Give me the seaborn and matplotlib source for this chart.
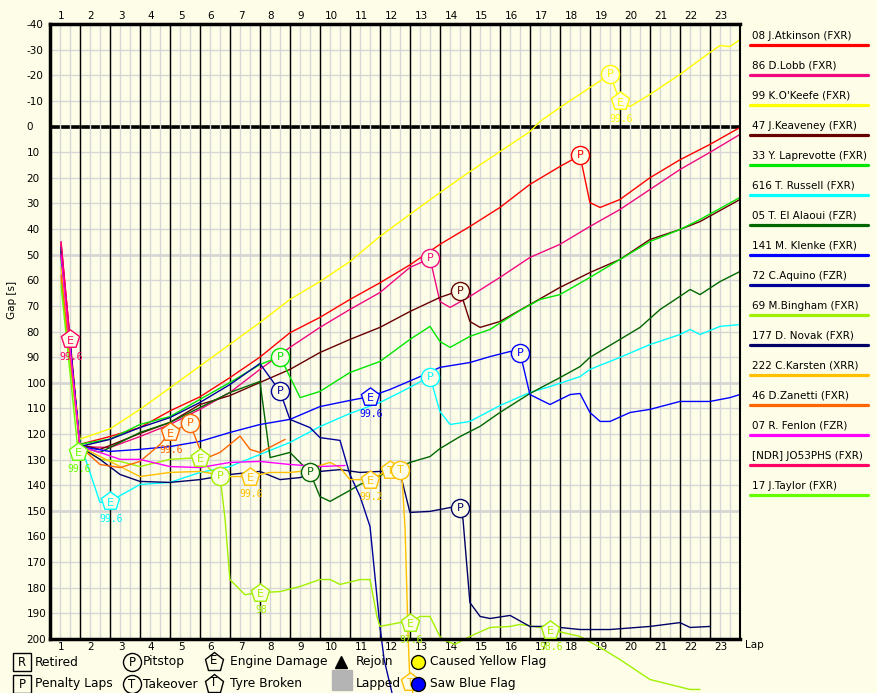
import numpy as np
import pandas as pd
import seaborn as sns
import matplotlib.pyplot as plt
from matplotlib.lines import Line2D

sns.set_theme(style='white')
plt.rcParams['font.family'] = ['DejaVu Sans']
plt.rcParams['axes.unicode_minus'] = False
plt.rcParams['text.color'] = 'black'
plt.rcParams['xtick.color'] = 'black'
plt.rcParams['ytick.color'] = 'black'

BG = '#fefee8'
W, H = 877, 693

# gap to the leader [s] per lap position
atkinson_lap = [1.0, 1.63, 2.63, 3.63, 4.63, 5.63, 6.63, 7.63, 8.63, 9.63, 10.63, 11.63, 12.63,
                13.63, 14.63, 15.63, 16.63, 17.63, 18.3, 18.63, 18.97, 19.63, 20.63, 21.63, 22.63, 23.63]
atkinson_gap = [46, 124, 121, 117.5, 111, 105.5, 98, 90, 80.5, 74.5, 67.5, 61, 54,
                46, 39, 31.6, 22.6, 15.6, 11.3, 29.7, 31.6, 28.5, 20, 13, 7, 0.4]

lobb_lap = [1.0, 1.63, 2.63, 3.63, 4.63, 5.63, 6.63, 7.63, 8.63, 9.63, 10.63, 11.63, 12.63, 13.3,
            13.63, 13.97, 14.63, 15.63, 16.63, 17.63, 18.63, 19.63, 20.63, 21.63, 22.63, 23.63]
lobb_gap = [45, 124.9, 125.3, 121, 116.3, 110.4, 103.8, 94.8, 86.2, 78.4, 71.4, 64.8, 55, 51.5,
            68.3, 70.6, 66.3, 58.9, 51.1, 46, 39, 32.4, 24.6, 16.8, 10.1, 3.1]

okeefe_lap = [1.0, 1.63, 2.63, 3.63, 4.63, 5.63, 6.63, 7.63, 8.63, 9.63, 10.63, 11.63, 12.63, 13.63,
              14.63, 15.63, 16.63, 16.97, 17.63, 18.63, 19.3, 19.63, 19.97, 20.63, 21.63, 22.63,
              22.97, 23.3, 23.63]
okeefe_gap = [48, 122, 118, 110.4, 102, 93.5, 85, 76.5, 67.5, 60.5, 52.7, 42.9, 34.3, 25.8,
              17.6, 9.8, 2.0, -2.0, -7.4, -15.2, -20.3, -9.8, -7.8, -12.5, -20.3, -28.9,
              -31.6, -31.2, -33.9]

keaveney_lap = [1.0, 1.63, 2.3, 2.63, 3.63, 4.63, 5.63, 6.63, 7.63, 8.63, 9.63, 10.63, 11.63, 12.63,
                13.63, 14.3, 14.63, 14.97, 15.63, 16.63, 17.63, 18.63, 19.63, 20.63, 21.63, 22.3, 23.63]
keaveney_gap = [50, 124.1, 126, 124.5, 119.8, 115.5, 108.5, 105, 99.9, 94.8, 88.2, 83.1, 78.4, 72.2,
                66.7, 64, 76.1, 78.4, 76.1, 69.5, 62.8, 57, 51.9, 44.1, 40.2, 37.1, 28.5]

laprevotte_lap = [1.0, 1.63, 2.63, 3.63, 4.63, 5.63, 6.63, 7.63, 8.3, 8.97, 9.63, 10.63, 11.63, 12.63,
                  13.3, 13.63, 13.97, 14.63, 15.3, 16.3, 16.97, 17.63, 18.63, 19.63, 20.63, 21.63,
                  22.3, 23.63]
laprevotte_gap = [52, 124, 122, 116.3, 113.2, 106.5, 99.9, 92.9, 89.8, 105.8, 103.4, 96, 91.7, 83.1,
                  78, 83.9, 86.2, 81.9, 79.2, 71.8, 67.5, 65.6, 58.9, 51.9, 44.9, 40.2, 36.3, 27.7]

russell_lap = [1.0, 1.63, 2.3, 2.63, 3.63, 4.63, 5.63, 6.63, 7.63, 8.63, 9.63, 10.63, 11.63, 12.3,
               13.3, 13.63, 13.97, 14.63, 15.63, 16.63, 17.3, 18.3, 18.63, 19.63, 20.63, 21.63,
               21.97, 22.3, 22.97, 23.63]
russell_gap = [55, 123.3, 146.7, 146.3, 139.7, 138.9, 135, 132.7, 128, 123.3, 117.1, 112, 107.7, 103.8,
               97.6, 111.2, 116.3, 115.1, 108.9, 103.8, 101.5, 97.6, 94.8, 90.1, 85.1, 81.2,
               79.2, 81.2, 78, 77.3]

elalaoui_lap = [1.0, 1.63, 2.3, 3.63, 4.63, 5.63, 6.63, 7.63, 7.97, 8.63, 9.3, 9.63, 9.97, 10.63,
                10.97, 11.63, 12.63, 13.3, 13.63, 14.3, 14.97, 15.63, 16.63, 17.63, 18.3, 18.63,
                19.63, 20.3, 20.97, 21.63, 21.97, 22.3, 22.97, 23.63]
elalaoui_gap = [50, 124.9, 127.2, 119.4, 115.5, 109.7, 103.8, 99.5, 129.2, 127.2, 135, 144.4, 146.3, 142,
                139.7, 136.2, 131.1, 128.8, 125.7, 121, 117, 111.6, 104.2, 98, 93.7, 90.1,
                83.1, 78.4, 71.4, 66.3, 63.6, 65.6, 60.5, 56.6]

klenke_lap = [1.0, 1.63, 2.63, 3.63, 4.63, 5.63, 6.63, 7.63, 8.63, 9.63, 10.63, 11.3, 11.97, 12.97,
              13.63, 14.63, 15.3, 15.97, 16.3, 16.63, 17.3, 17.97, 18.3, 18.63, 18.97, 19.3, 19.97,
              20.63, 21.63, 22.63, 23.3, 23.63]
klenke_gap = [47, 124.9, 126.8, 126, 124.9, 122.9, 119.4, 116.3, 114.3, 109.3, 106.9, 105.4, 102.6, 97.6,
              94, 92.1, 89.8, 87.8, 88.2, 104.6, 108.5, 104.6, 104.2, 111.6, 115.1, 115.1, 111.6,
              110.4, 107.3, 107.3, 105.8, 104.6]

aquino_lap = [1.0, 1.63, 2.63, 3.63, 4.63, 5.63, 6.63, 7.63, 8.3, 8.63, 9.3, 9.63, 10.3, 10.63,
              10.97, 11.3, 11.63, 11.77, 12.03]
aquino_gap = [49, 124.9, 122.1, 117.5, 113.6, 107.7, 100.7, 92.5, 103.4, 114.3, 117.5, 121.4, 122.5, 135.8,
              144.4, 156.1, 195.1, 208, 220.9]

bingham_lap = [1.0, 1.63, 2.3, 2.97, 3.63, 4.63, 5.63, 5.97, 6.3, 6.47, 6.63, 7.13, 7.63, 8.3, 8.97,
               9.63, 9.97, 10.3, 10.97, 11.3, 11.53, 11.63, 12.3, 12.63, 12.97, 13.3, 13.63, 13.73,
               14.13, 14.63, 15.3, 15.97, 16.3, 16.97, 17.3, 17.73, 18.3, 18.97, 19.63, 20.63, 21.97, 22.3]
bingham_gap = [60, 125.3, 129.9, 130.7, 132.7, 129.9, 129.2, 133.9, 136.2, 153.4, 176.8, 182.7, 181.9, 181.5, 179.5,
               176.8, 176.8, 178.7, 176.8, 176.8, 191.2, 195.1, 193.6, 193.6, 191.2, 191.2, 199, 200.2,
               202.1, 199, 195.5, 195.1, 194.3, 195.5, 196.3, 197.5, 199, 203.3, 208, 215.8, 219.7, 219.7]

novak_lap = [1.0, 1.63, 2.3, 2.97, 3.63, 4.63, 5.63, 6.63, 7.63, 8.3, 8.97, 9.63, 10.3, 10.97, 11.63,
             12.3, 12.63, 13.3, 13.97, 14.3, 14.4, 14.63, 14.97, 15.3, 15.97, 16.63, 17.3, 18.3, 19.3,
             20.63, 21.63, 21.97, 22.63]
novak_gap = [48, 124.9, 129.9, 135.8, 138.5, 138.9, 137.8, 135.8, 134.6, 137.8, 137, 134.6, 133.9, 135, 134.6,
             135, 150.6, 150.2, 148.7, 148.7, 153.4, 185.8, 191.2, 192, 190.8, 195.1, 195.1, 196.3, 196.3,
             195.1, 193.6, 195.5, 195.1]

karsten_lap = [1.0, 1.63, 2.63, 3.63, 4.63, 5.63, 6.63, 7.3, 7.97, 8.63, 8.97, 9.97, 10.3, 10.63,
               11.3, 11.97, 12.3, 12.37, 12.47, 12.57, 12.63, 12.73]
karsten_gap = [55, 124.9, 130.7, 136.6, 135, 134.6, 136.6, 136.6, 135, 135, 134.6, 131.1, 133.1, 137.8,
               137.8, 133.9, 133.9, 137.8, 157.3, 199, 216.6, 221]

zanetti_lap = [1.0, 1.63, 2.3, 2.97, 3.63, 4.3, 4.63, 5.3, 5.63, 5.97, 6.3, 6.97, 7.3, 7.63, 8.47]
zanetti_gap = [58, 124.9, 131.9, 133.1, 130.7, 124.1, 119.4, 115.9, 126, 128.8, 127.2, 120.8, 126, 127.2, 122.1]

fenlon_lap = [1.0, 1.63, 2.3, 2.97, 3.63, 4.63, 5.63, 6.63, 7.63, 8.63, 9.63, 10.47]
fenlon_gap = [50, 124.9, 127.2, 129.9, 129.9, 132.7, 133.1, 131.1, 130.7, 131.9, 132.7, 132.3]

jo53phs_lap = [1.0, 1.3]
jo53phs_gap = [45, 83]

taylor_lap = [1.0, 1.57]
taylor_gap = [62, 127]

series = [
    ('08 J.Atkinson (FXR)', '#ff0000', atkinson_lap, atkinson_gap),
    ('86 D.Lobb (FXR)', '#f0087f', lobb_lap, lobb_gap),
    ("99 K.O'Keefe (FXR)", '#ffff00', okeefe_lap, okeefe_gap),
    ('47 J.Keaveney (FXR)', '#660000', keaveney_lap, keaveney_gap),
    ('33 Y. Laprevotte (FXR)', '#00e600', laprevotte_lap, laprevotte_gap),
    ('616 T. Russell (FXR)', '#00ffff', russell_lap, russell_gap),
    ('05 T. El Alaoui (FZR)', '#006600', elalaoui_lap, elalaoui_gap),
    ('141 M. Klenke (FXR)', '#0000ff', klenke_lap, klenke_gap),
    ('72 C.Aquino (FZR)', '#000099', aquino_lap, aquino_gap),
    ('69 M.Bingham (FXR)', '#a0f000', bingham_lap, bingham_gap),
    ('177 D. Novak (FXR)', '#000066', novak_lap, novak_gap),
    ('222 C.Karsten (XRR)', '#ffc000', karsten_lap, karsten_gap),
    ('46 D.Zanetti (FXR)', '#ff6600', zanetti_lap, zanetti_gap),
    ('07 R. Fenlon (FZR)', '#ff00ff', fenlon_lap, fenlon_gap),
    ('[NDR] JO53PHS (FXR)', '#ff0066', jo53phs_lap, jo53phs_gap),
    ('17 J.Taylor (FXR)', '#66ff00', taylor_lap, taylor_gap),
]
palette = {name: col for name, col, _, _ in series}

# events: driver index, symbol, letter, lap, gap, note
ev_driver = [14, 15, 5, 12, 12, 9, 9, 11, 9, 4, 8, 6, 7, 11, 11, 11, 9, 11, 5, 1, 3, 10, 7, 9, 0, 2, 2]
ev_shape = ['p', 'p', 'p', 'p', 'o', 'p', 'o', 'p', 'p', 'o', 'o', 'o', 'p', 'p', 'p', 'o', 'p', 'p',
            'o', 'o', 'o', 'o', 'o', 'p', 'o', 'o', 'p']
ev_letter = ['E', 'E', 'E', 'E', 'P', 'E', 'P', 'E', 'E', 'P', 'P', 'P', 'E', 'E', 'T', 'T', 'E', 'T',
             'P', 'P', 'P', 'P', 'P', 'E', 'P', 'P', 'E']
ev_lap = [1.3, 1.57, 2.63, 4.63, 5.3, 5.63, 6.3, 7.3, 7.63, 8.3, 8.3, 9.3, 11.3, 11.3, 11.97, 12.3, 12.63,
          12.63, 13.3, 13.3, 14.3, 14.3, 16.3, 17.3, 18.3, 19.3, 19.63]
ev_gap = [83, 127, 146.3, 119.4, 115.9, 129.2, 136.2, 136.6, 181.9, 89.8, 103.4, 135, 105.4, 137.8, 133.9,
          133.9, 193.6, 216.6, 97.6, 51.5, 64, 148.7, 88.2, 196.3, 11.3, -20.3, -9.8]
ev_note = ['99.6', '99.6', '99.6', '99.6', '', '', '', '99.6', '98', '', '', '', '99.6', '99.2', '',
           '', '97.6', '', '', '', '', '', '', '98.6', '', '', '99.6']

rows = []
for name, _, laps, gaps in series:
    for l, g in zip(laps, gaps):
        rows.append((name, l, g))
df = pd.DataFrame(rows, columns=['driver', 'lap', 'gap'])

fig = plt.figure(figsize=(W / 100, H / 100), dpi=100, facecolor=BG)
ax = fig.add_axes([50 / W, 54 / H, 690 / W, 615 / H])
ax.set_facecolor(BG)

# background grid
for v in range(-40, 201, 10):
    ax.axhline(v, color='#d6d6d6', lw=2 if v % 50 == 0 else 1, zorder=0.5)
ax.axhline(0, color='black', lw=2.6, zorder=0.8)
for k in range(1, 69):
    ax.axvline(0.633 + k / 3, color='#d6d6d6', lw=1, zorder=1)
for n in range(1, 23):
    ax.axvline(n + 0.633, color='black', lw=1, zorder=1.5)

n_before = len(ax.lines)
sns.lineplot(data=df, x='lap', y='gap', hue='driver', palette=palette, hue_order=list(palette),
             estimator=None, sort=False, legend=False, linewidth=1.0, ax=ax)
for ln in ax.lines[n_before:]:
    ln.set_clip_on(False)
    ln.set_zorder(3)

for d, shp, let, lx, gy, note in zip(ev_driver, ev_shape, ev_letter, ev_lap, ev_gap, ev_note):
    col = series[d][1]
    ax.scatter([lx], [gy], s=170 if shp == 'o' else 190, marker=shp, facecolor=BG, edgecolor=col,
               linewidth=1, zorder=5, clip_on=False)
    ax.text(lx, gy + (0.6 if shp == 'p' else 0), let, color=col, ha='center', va='center',
            fontsize=8, zorder=6)
    if note:
        ax.annotate(note, (lx, gy), xytext=(1, -9), textcoords='offset points', color=col,
                    ha='center', va='top', fontsize=7, family='DejaVu Sans Mono', zorder=6,
                    annotation_clip=False)

ax.set_xlim(0.633, 23.633)
ax.set_ylim(200, -40)
ax.set_xticks(range(1, 24))
ax.set_yticks(range(-40, 201, 10))
ax.set_xlabel('')
ax.set_ylabel('')
ax.tick_params(axis='x', length=0, labeltop=True, labelbottom=True, pad=2, labelsize=7.5)
ax.tick_params(axis='y', length=0, pad=17, labelsize=7.5)
plt.setp(ax.get_yticklabels(), ha='left')
for side, sp in ax.spines.items():
    sp.set_color('black')
    sp.set_linewidth(2.5 if side in ('left', 'bottom', 'top') else 1.5)
    sp.set_zorder(4)

fig.text(12 / W, 1 - 300 / H, 'Gap [s]', rotation=90, ha='center', va='center', fontsize=7.5)
fig.text(745 / W, 1 - 645 / H, 'Lap', ha='left', va='center', fontsize=7.5)

# driver legend on the right
for i, (name, col, _, _) in enumerate(series):
    fig.text(752 / W, 1 - (36 + 30 * i) / H, name, ha='left', va='center', fontsize=7.5)
    fig.add_artist(Line2D([750 / W, 868 / W], [1 - (45 + 30 * i) / H] * 2, color=col, lw=2.3))


# symbol legend at the bottom
def fig_symbol(px, py, marker, size, face, edge, letter=None):
    fig.add_artist(Line2D([px / W], [1 - py / H], marker=marker, markersize=size, markerfacecolor=face,
                          markeredgecolor=edge, markeredgewidth=1, linestyle='none'))
    if letter:
        fig.text(px / W, 1 - (py - (1 if marker == 'p' else 0)) / H, letter, ha='center', va='center',
                 fontsize=8.5)


items = [
    (22, 662, 's', 13, BG, 'black', 'R', 'Retired'),
    (132, 662, 'o', 13, BG, 'black', 'P', 'Pitstop'),
    (214, 662, 'p', 14, BG, 'black', 'E', 'Engine Damage'),
    (341, 662, '^', 8, 'black', 'black', None, 'Rejoin'),
    (418, 662, 'o', 10, '#ffff00', 'black', None, 'Caused Yellow Flag'),
    (22, 684, 's', 13, BG, 'black', 'P', 'Penalty Laps'),
    (132, 684, 'o', 13, BG, 'black', 'T', 'Takeover'),
    (214, 684, 'p', 14, BG, 'black', 'T', 'Tyre Broken'),
    (342, 680, 's', 15, '#b4b4b4', '#b4b4b4', None, 'Lapped'),
    (418, 684, 'o', 10, '#0000ff', 'black', None, 'Saw Blue Flag'),
]
for px, py, mk, sz, fc, ec, let, label in items:
    fig_symbol(px, py, mk, sz, fc, ec, let)
    tx = {22: 35, 132: 143, 214: 230, 341: 356, 342: 356, 418: 430}[px]
    fig.text(tx / W, 1 - py / H if px != 342 else 1 - 684 / H, label, ha='left', va='center', fontsize=8.8)

fig.savefig('out.png', dpi=100, facecolor=BG)
